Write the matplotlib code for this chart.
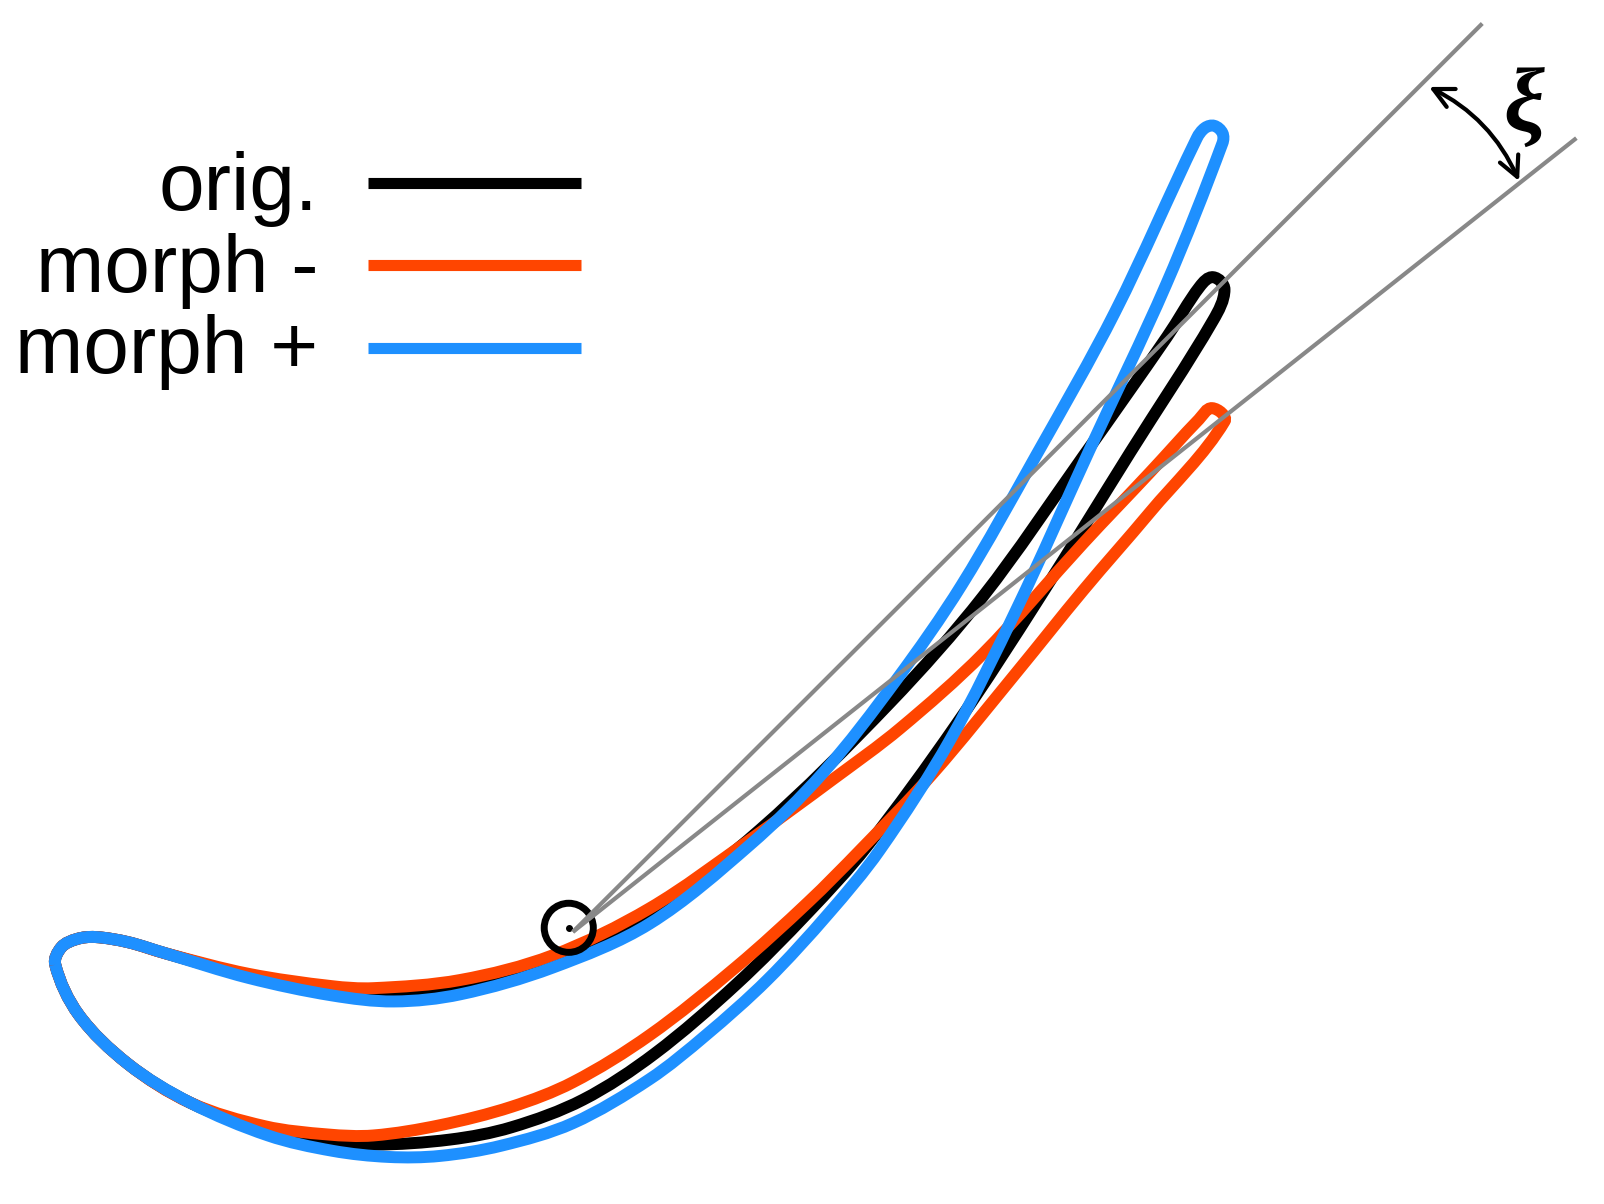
import numpy as np
import matplotlib.pyplot as plt
from matplotlib.path import Path
from matplotlib.patches import PathPatch, FancyArrowPatch, Circle

# -------------------------------------- #
# outlines (x, y)
# -------------------------------------- #
nose_top = [(54, 943), (60, 926), (75, 918), (93, 916), (125, 921), (162, 932)]
nose_bottom = [(186, 1078), (125, 1040), (77, 992)]

orig_x, orig_y = zip(*(nose_top + [
    (243, 954), (324, 969), (370, 971), (450, 965), (540, 938), (635, 893), (743, 811), (870, 687),
    (961, 583), (1059, 446), (1141, 329), (1173, 280), (1186, 271), (1197, 283), (1186, 313),
    (1105, 442), (1017, 583), (935, 708), (847, 828), (790, 892), (720, 962), (640, 1030),
    (570, 1075), (500, 1102), (440, 1114), (365, 1119), (324, 1115), (259, 1105)] + nose_bottom))

minus_x, minus_y = zip(*(nose_top + [
    (243, 952), (324, 964), (365, 966), (450, 958), (540, 934), (635, 888), (733, 821), (814, 762),
    (880, 712), (961, 639), (1059, 531), (1124, 462), (1172, 410), (1185, 399), (1197, 412),
    (1124, 501), (1059, 577), (994, 657), (912, 756), (841, 831), (790, 882), (720, 945),
    (635, 1012), (560, 1058), (500, 1082), (430, 1100), (365, 1110), (320, 1109), (259, 1101)] + nose_bottom))

plus_x, plus_y = zip(*(nose_top + [
    (243, 956), (324, 973), (385, 979), (450, 972), (540, 946), (635, 903), (733, 826), (805, 755),
    (876, 665), (940, 572), (1013, 445), (1090, 305), (1170, 135), (1178, 125), (1187, 123),
    (1195, 130), (1195, 140), (1140, 278), (1065, 440), (994, 595), (929, 723), (860, 831),
    (810, 893), (750, 958), (690, 1012), (635, 1055), (560, 1098), (490, 1120), (430, 1130),
    (380, 1131), (325, 1125), (262, 1110)] + nose_bottom))

labels = ['orig.', 'morph -', 'morph +']
colors = ['black', '#ff4500', '#1e90ff']
origin = (560, 911)
ray_ends = [(1449, 23), (1541, 135)]


def smooth_path(xs, ys):
    # closed spline through the points, handles scaled by chord length
    p = np.column_stack((xs, ys)).astype(float)
    n = len(p)
    verts = [p[0]]
    codes = [Path.MOVETO]
    for i in range(n):
        p0, p1, p2, p3 = p[i - 1], p[i], p[(i + 1) % n], p[(i + 2) % n]
        chord = np.linalg.norm(p2 - p1)
        t1 = (p2 - p0) / np.linalg.norm(p2 - p0)
        t2 = (p3 - p1) / np.linalg.norm(p3 - p1)
        verts += [p1 + t1 * chord / 3, p2 - t2 * chord / 3, p2]
        codes += [Path.CURVE4] * 3
    return Path(verts, codes)


plt.rcParams['font.family'] = ['Liberation Sans', 'DejaVu Sans']
fig = plt.figure(figsize=(16.04, 12.04), dpi=100)
ax = fig.add_axes([0, 0, 1, 1])
ax.set_xlim(0, 1568)
ax.set_ylim(1177, 0)
ax.axis('off')

# profiles
outlines = [(orig_x, orig_y), (minus_x, minus_y), (plus_x, plus_y)]
for (xs, ys), c in zip(outlines, colors):
    ax.add_patch(PathPatch(smooth_path(xs, ys), fill=False, edgecolor=c, linewidth=8.6, zorder=2))

# pivot
ax.add_patch(Circle((556, 907), 24, fill=False, edgecolor='black', linewidth=5, zorder=3))
ax.plot([556], [907], 'o', color='black', markersize=4, zorder=3)

# stagger rays
for end in ray_ends:
    ax.plot([origin[0], end[0]], [origin[1], end[1]], color='#888888', linewidth=3,
            solid_capstyle='butt', zorder=4)

# angle
ax.add_patch(FancyArrowPatch((1397, 85), (1485, 177), arrowstyle='<->', mutation_scale=36,
                             connectionstyle='arc3,rad=-0.18', color='black', linewidth=3,
                             shrinkA=0, shrinkB=0, zorder=5))
ax.text(1490, 107, 'ξ', fontsize=66, family='Liberation Serif', weight='bold', style='italic',
        ha='center', va='center', zorder=5)

# legend
for lab, c, ty, ly in zip(labels, colors, [205, 285, 365], [179, 259, 340]):
    ax.text(311, ty, lab, fontsize=59, ha='right', va='baseline', color='black')
    ax.plot([360, 568], [ly, ly], color=c, linewidth=8, solid_capstyle='butt')

plt.savefig('out.png', dpi=100)
